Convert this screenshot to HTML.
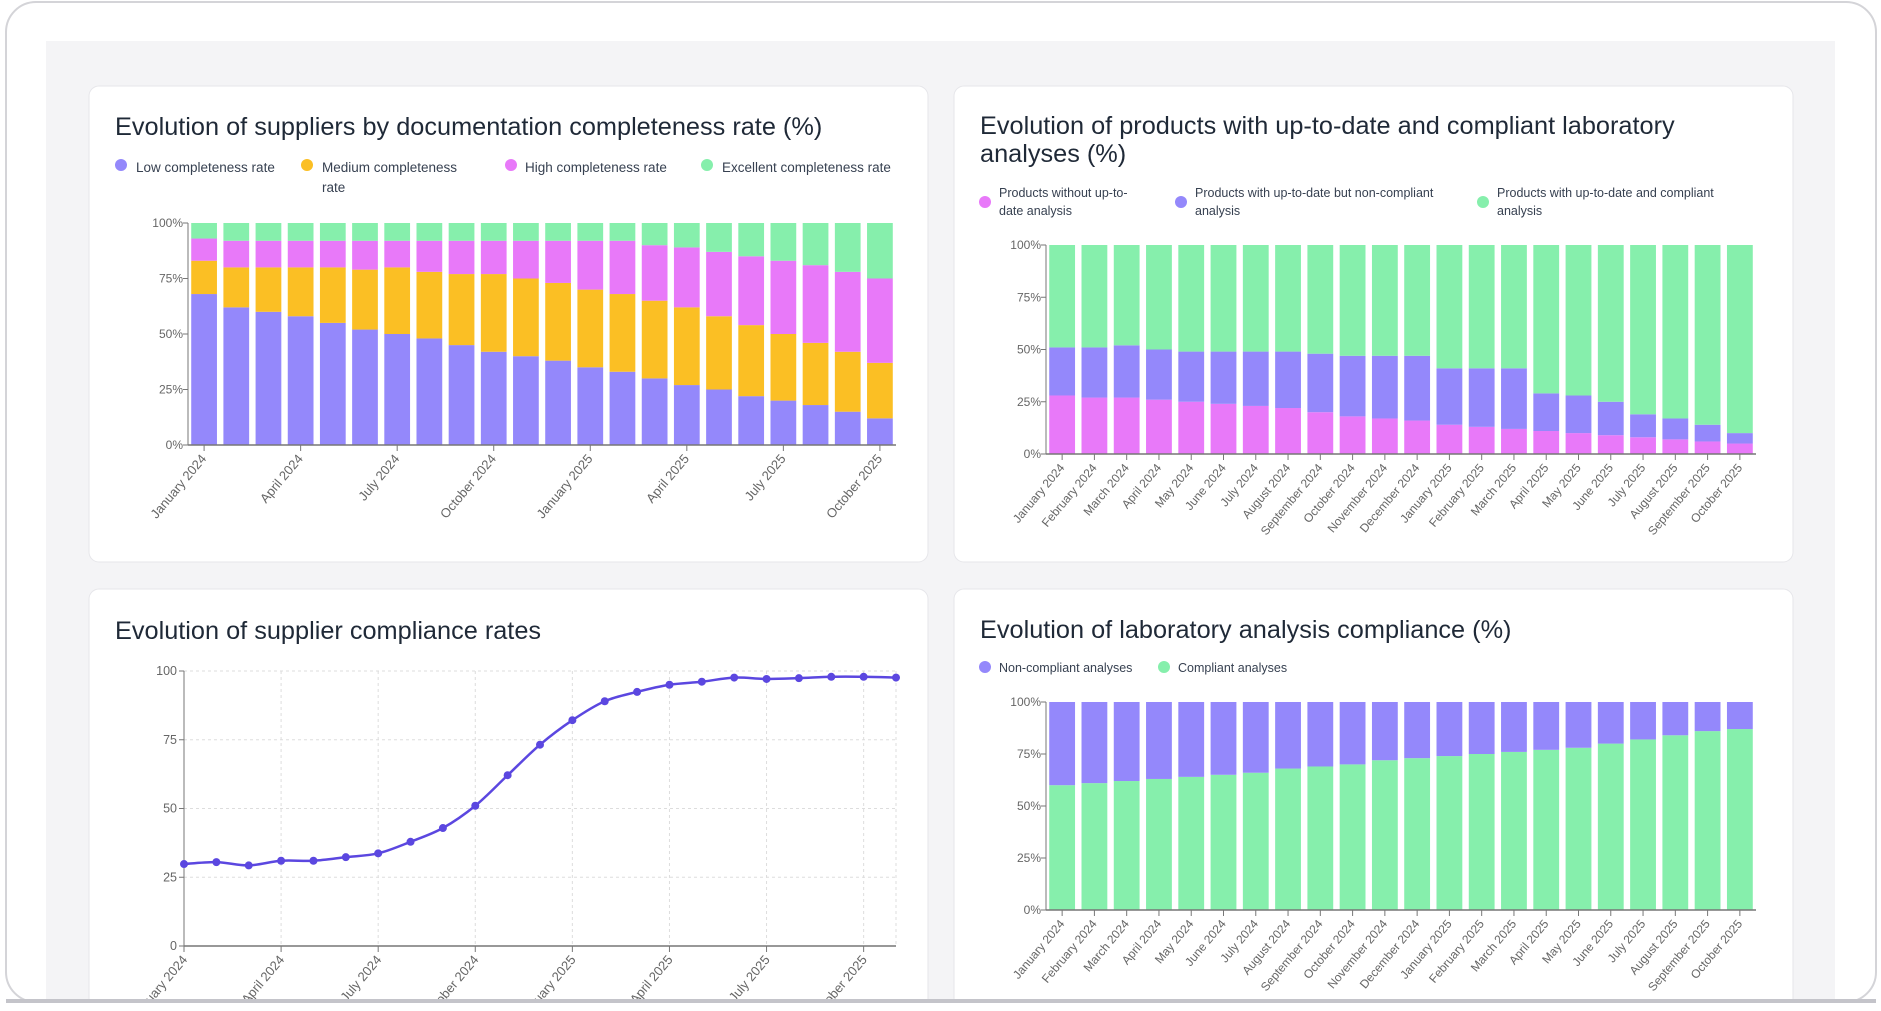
<!DOCTYPE html>
<html><head><meta charset="utf-8">
<style>
html,body{margin:0;padding:0;background:#fff;width:1881px;height:1011px;overflow:hidden;font-family:"Liberation Sans",sans-serif}
svg{display:block}
</style></head>
<body>
<svg id="s" width="1881" height="1011" xmlns="http://www.w3.org/2000/svg">
<rect x="6" y="2" width="1870" height="1000" rx="30" fill="#fff" stroke="#d4d4d8" stroke-width="2"/>
<rect x="46" y="41" width="1789" height="960" fill="#f4f4f6"/>
<rect x="89" y="86" width="839" height="476" rx="10" fill="#fff" stroke="#e6e6ea"/>
<rect x="954" y="86" width="839" height="476" rx="10" fill="#fff" stroke="#e6e6ea"/>
<rect x="89" y="589" width="839" height="430" rx="10" fill="#fff" stroke="#e6e6ea"/>
<rect x="954" y="589" width="839" height="430" rx="10" fill="#fff" stroke="#e6e6ea"/>
<g font-family="Liberation Sans, sans-serif" fill="#1f2937" font-size="25.3">
<text x="115" y="135">Evolution of suppliers by documentation completeness rate (%)</text>
<text x="980" y="134">Evolution of products with up-to-date and compliant laboratory</text>
<text x="980" y="162">analyses (%)</text>
<text x="115" y="639">Evolution of supplier compliance rates</text>
<text x="980" y="638">Evolution of laboratory analysis compliance (%)</text>
</g>
<g font-size="13.5" fill="#374151">
<circle cx="121" cy="165" r="6" fill="#9488fb"/>
<text x="136" y="172">Low completeness rate</text>
<circle cx="307" cy="165" r="6" fill="#fbbf24"/>
<text x="322" y="172">Medium completeness</text>
<text x="322" y="192">rate</text>
<circle cx="511" cy="165" r="6" fill="#e879f9"/>
<text x="525" y="172">High completeness rate</text>
<circle cx="707" cy="165" r="6" fill="#86efac"/>
<text x="722" y="172">Excellent completeness rate</text>
</g>
<g font-size="12.5" fill="#374151">
<circle cx="985" cy="202" r="6" fill="#e879f9"/>
<text x="999" y="197">Products without up-to-</text>
<text x="999" y="215">date analysis</text>
<circle cx="1181" cy="202" r="6" fill="#9488fb"/>
<text x="1195" y="197">Products with up-to-date but non-compliant</text>
<text x="1195" y="215">analysis</text>
<circle cx="1483" cy="202" r="6" fill="#86efac"/>
<text x="1497" y="197">Products with up-to-date and compliant</text>
<text x="1497" y="215">analysis</text>
<circle cx="985" cy="667" r="6" fill="#9488fb"/>
<text x="999" y="672">Non-compliant analyses</text>
<circle cx="1164" cy="667" r="6" fill="#86efac"/>
<text x="1178" y="672">Compliant analyses</text>
</g>
<g id="charts"></g>
</svg>
<script>
const months = ["January 2024","February 2024","March 2024","April 2024","May 2024","June 2024","July 2024","August 2024","September 2024","October 2024","November 2024","December 2024","January 2025","February 2025","March 2025","April 2025","May 2025","June 2025","July 2025","August 2025","September 2025","October 2025"];
// chart1 (percent values)
const c1Low = [68,62,60,58,55,52,50,48,45,42,40,38,35,33,30,27,25,22,20,18,15,12];
const c1Medium = [15,18,20,22,25,27,30,30,32,35,35,35,35,35,35,35,33,32,30,28,27,25];
const c1High = [10,12,12,12,12,13,12,14,15,15,17,19,22,24,25,27,29,31,33,35,36,38];
const c1Excellent = [7,8,8,8,8,8,8,8,8,8,8,8,8,8,10,11,13,15,17,19,22,25];
// chart2
const c2Without = [28,27,27,26,25,24,23,22,20,18,17,16,14,13,12,11,10,9,8,7,6,5];
const c2NonCompliant = [23,24,25,24,24,25,26,27,28,29,30,31,27,28,29,18,18,16,11,10,8,5];
const c2Compliant = [49,49,48,50,51,51,51,51,52,53,53,53,59,59,59,71,72,75,81,83,86,90];
// chart3
const c3Months = ["January 2024","February 2024","March 2024","April 2024","May 2024","June 2024","July 2024","August 2024","September 2024","October 2024","November 2024","December 2024","January 2025","February 2025","March 2025","April 2025","May 2025","June 2025","July 2025","August 2025","September 2025","October 2025","November 2025"];
const c3Rate = [29.8,30.5,29.3,31,31,32.3,33.7,37.9,42.9,51,62.1,73.2,82.1,89,92.4,95,96.1,97.6,97.1,97.4,97.9,97.9,97.6];
const c3Ticks = [0,25,50,75,100];
// chart4
const c4Compliant = [60,61,62,63,64,65,66,68,69,70,72,73,74,75,76,77,78,80,82,84,86,87];
const c4NonCompliant = [40,39,38,37,36,35,34,32,31,30,28,27,26,25,24,23,22,20,18,16,14,13];
const pctTicks = [0,25,50,75,100];
const pctLabels = ["0%","25%","50%","75%","100%"];

const NS="http://www.w3.org/2000/svg";
const root=document.getElementById('charts');
function mk(tag,attrs,parent){const e=document.createElementNS(NS,tag);for(const k in attrs)e.setAttribute(k,attrs[k]);(parent||root).appendChild(e);return e;}

function stacked(name,x0,x1,yTop,yBot,series,colors,labelEvery,labelSize){
  const n=months.length, band=(x1-x0)/n, bw=band*0.8;
  const y=v=>yBot-(v/100)*(yBot-yTop);
  const g=mk('g',{});
  
  
  for(let i=0;i<n;i++){
    let acc=0;
    series.forEach((s,si)=>{
      const v=s[i];
      const r=mk('rect',{x:x0+i*band+(band-bw)/2,y:y(acc+v),width:bw,height:y(acc)-y(acc+v),fill:colors[si]},g);
      
      
      acc+=v;
    });
  }
  mk('line',{x1:x0,x2:x0,y1:yTop,y2:yBot,stroke:'#777','stroke-width':1},g);
  mk('line',{x1:x0,x2:x1,y1:yBot,y2:yBot,stroke:'#777','stroke-width':1.5},g);
  pctTicks.forEach((t,k)=>{
    mk('line',{x1:x0-5,x2:x0,y1:y(t),y2:y(t),stroke:'#777'},g);
    const tx=mk('text',{x:x0-5,y:y(t)+4,'text-anchor':'end','font-size':12,fill:'#666'},g);
    tx.textContent=pctLabels[k];
    
    
  });
  for(let i=0;i<n;i+=labelEvery){
    const cx=x0+i*band+band/2;
    mk('line',{x1:cx,x2:cx,y1:yBot,y2:yBot+6,stroke:'#777'},g);
    const tx=mk('text',{x:cx+3,y:yBot+14,'text-anchor':'end','font-size':labelSize,fill:'#666',transform:`rotate(-50 ${cx+3} ${yBot+14})`},g);
    tx.textContent=months[i];
    
    
  }
}
const PUR='#9488fb',YEL='#fbbf24',PNK='#e879f9',GRN='#86efac';
stacked('chart1',188,896,223,445,[c1Low,c1Medium,c1High,c1Excellent],[PUR,YEL,PNK,GRN],3,13);
stacked('chart2',1046,1756,245,454,[c2Without,c2NonCompliant,c2Compliant],[PNK,PUR,GRN],1,12);
stacked('chart4',1046,1756,702,910,[c4Compliant,c4NonCompliant],[GRN,PUR],1,12);

(function(){
  const x0=184,x1=896,yTop=671,yBot=946,n=c3Rate.length;
  const x=i=>x0+i*(x1-x0)/(n-1);
  const y=v=>yBot-(v/100)*(yBot-yTop);
  const g=mk('g',{});
  
  
  c3Ticks.forEach(t=>{
    if(t>0) mk('line',{x1:x0,x2:x1,y1:y(t),y2:y(t),stroke:'#ddd','stroke-dasharray':'3 3'},g);
    mk('line',{x1:x0-5,x2:x0,y1:y(t),y2:y(t),stroke:'#777'},g);
    const tx=mk('text',{x:x0-7,y:y(t)+4,'text-anchor':'end','font-size':12.5,fill:'#666'},g);
    tx.textContent=String(t);
    
    
  });
  for(let i=0;i<n;i+=3){
    if(i>0) mk('line',{x1:x(i),x2:x(i),y1:yTop,y2:yBot,stroke:'#ddd','stroke-dasharray':'3 3'},g);
  }
  mk('line',{x1:x1,x2:x1,y1:yTop,y2:yBot,stroke:'#ddd','stroke-dasharray':'3 3'},g);
  mk('line',{x1:x0,x2:x0,y1:yTop,y2:yBot,stroke:'#777'},g);
  mk('line',{x1:x0,x2:x1,y1:yBot,y2:yBot,stroke:'#777','stroke-width':1.5},g);
  for(let i=0;i<n;i+=3){
    mk('line',{x1:x(i),x2:x(i),y1:yBot,y2:yBot+6,stroke:'#777'},g);
    const tx=mk('text',{x:x(i)+4,y:yBot+14,'text-anchor':'end','font-size':13,fill:'#666',transform:`rotate(-50 ${x(i)+4} ${yBot+14})`},g);
    tx.textContent=c3Months[i];
    
    
  }
  const P=c3Rate.map((v,i)=>[x(i),y(v)]);
  let d=`M${P[0][0]},${P[0][1]}`;
  for(let i=0;i<P.length-1;i++){
    const p0=P[i-1]||P[i],p1=P[i],p2=P[i+1],p3=P[i+2]||p2;
    const c1=[p1[0]+(p2[0]-p0[0])/6,p1[1]+(p2[1]-p0[1])/6];
    const c2=[p2[0]-(p3[0]-p1[0])/6,p2[1]-(p3[1]-p1[1])/6];
    d+=`C${c1[0]},${c1[1]} ${c2[0]},${c2[1]} ${p2[0]},${p2[1]}`;
  }
  const path=mk('path',{d:d,fill:'none',stroke:'#5b47e0','stroke-width':2.5},g);
  
  
  P.forEach(p=>{
    const c=mk('circle',{cx:p[0],cy:p[1],r:4,fill:'#5b47e0'},g);
    
    
  });
})();
const edge=mk('rect',{x:0,y:1000,width:1881,height:11,fill:'#fff'},document.getElementById('s'));


const edgeLine=mk('line',{x1:6,x2:1876,y1:1001,y2:1001,stroke:'#c4c4ca','stroke-width':4},document.getElementById('s'));


</script>
</body></html>
